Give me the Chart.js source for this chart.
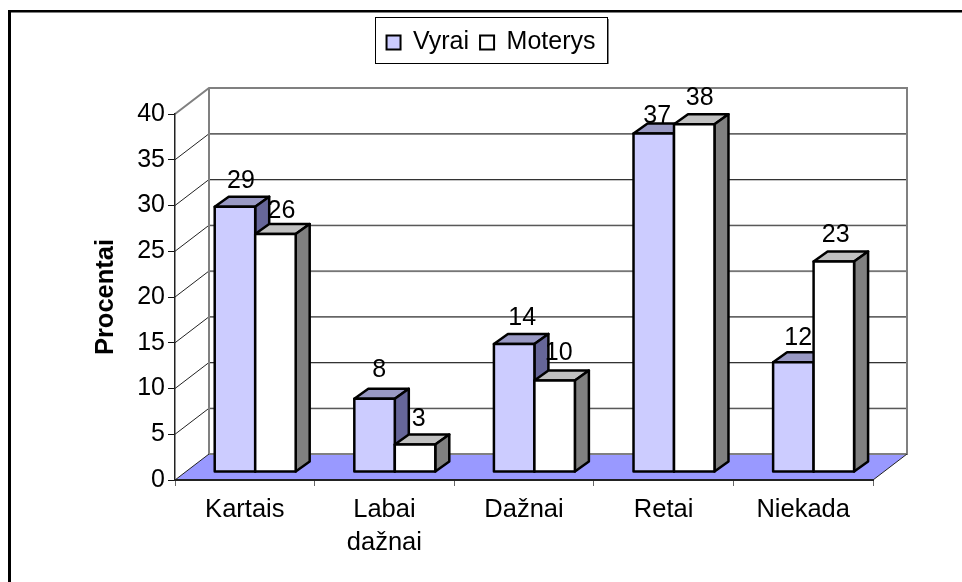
<!DOCTYPE html>
<html>
<head>
<meta charset="utf-8">
<style>html,body{margin:0;padding:0;background:#fff}canvas{display:block}</style>
<script src="https://cdn.jsdelivr.net/npm/chart.js@4"></script>
</head>
<body>
<canvas id="c" width="962" height="582"></canvas>
<script>
const categories = ['Kartais', ['Labai', 'dažnai'], 'Dažnai', 'Retai', 'Niekada'];
const vyrai = [29, 8, 14, 37, 12];
const moterys = [26, 3, 10, 38, 23];
const yTicks = [0, 5, 10, 15, 20, 25, 30, 35, 40];

const FONT = '"Liberation Sans", Arial, sans-serif';
const FS = 25;
const WALL = {dx: 34, dy: -26};      // depth of the back wall
const BAR_SHIFT = {dx: 10.4, dy: -8}; // bars stand inside the floor
const BAR_DEPTH = {dx: 14, dy: -10};
const BAR_LINE = 2.5;
// hand-placed data label nudges in the source chart (from bar front top centre)
const labelNudge = [
  [[6, -25.6], [4.7, -28.8], [8.1, -26], [3.5, -17.5], [4.9, -24]],
  [[6, -23], [3.7, -25.6], [4.1, -27.5], [5.5, -26.3], [1.9, -26.6]]
];
const faces = [
  {top: '#9999C4', side: '#666699'},
  {top: '#C0C0C0', side: '#808080'}
];

function poly(ctx, pts, fill, stroke, lw) {
  ctx.beginPath();
  pts.forEach((p, i) => i ? ctx.lineTo(p[0], p[1]) : ctx.moveTo(p[0], p[1]));
  ctx.closePath();
  if (fill) { ctx.fillStyle = fill; ctx.fill(); }
  if (stroke) { ctx.strokeStyle = stroke; ctx.lineWidth = lw; ctx.lineJoin = 'round'; ctx.stroke(); }
}
function line(ctx, pts, color, lw) {
  ctx.beginPath();
  pts.forEach((p, i) => i ? ctx.lineTo(p[0], p[1]) : ctx.moveTo(p[0], p[1]));
  ctx.strokeStyle = color; ctx.lineWidth = lw; ctx.stroke();
}
function drawDepth(ctx, meta, f) {
  meta.data.forEach(el => {
    const L = el.x - el.width / 2, R = el.x + el.width / 2, T = el.y, B = el.base;
    const {dx, dy} = BAR_DEPTH;
    poly(ctx, [[L, T], [L + dx, T + dy], [R + dx, T + dy], [R, T]], f.top, '#000', BAR_LINE);
    poly(ctx, [[R, T], [R + dx, T + dy], [R + dx, B + dy], [R, B]], f.side, '#000', BAR_LINE);
  });
}
function strokeFronts(ctx, meta) {
  meta.data.forEach(el => {
    ctx.strokeStyle = '#000'; ctx.lineWidth = BAR_LINE;
    ctx.strokeRect(el.x - el.width / 2, el.y, el.width, el.base - el.y);
  });
}

const chart3d = {
  id: 'chart3d',
  afterLayout(chart) {
    const l = chart.legend;
    l.left = 375; l.right = 607; l.top = 19; l.bottom = 65; l.width = 232; l.height = 46;
  },
  beforeDraw(chart) {
    const ctx = chart.ctx, a = chart.chartArea, y = chart.scales.y;
    const {dx, dy} = WALL;
    ctx.save();
    // outer frame: left and top only
    ctx.fillStyle = '#000';
    ctx.fillRect(8, 10, 3, 572);
    ctx.fillRect(8, 10, 954, 2.5);
    // legend frame
    ctx.strokeStyle = '#000'; ctx.lineWidth = 1;
    ctx.strokeRect(375.5, 17.5, 232, 46);
    ctx.fillStyle = '#808080';
    ctx.fillRect(608, 19, 1, 45);
    // floor
    poly(ctx, [[a.left, a.bottom], [a.left + dx, a.bottom + dy], [a.right + dx, a.bottom + dy], [a.right, a.bottom]], '#9999FF');
    // wall grid
    yTicks.forEach(v => {
      if (v === 0 || v === 40) return;
      const p = y.getPixelForValue(v);
      line(ctx, [[a.left, p], [a.left + dx, p + dy]], '#222', 1);
      line(ctx, [[a.left + dx, p + dy + 0.7], [a.right + dx, p + dy + 0.7]], '#aaa', 1);
      line(ctx, [[a.left + dx, p + dy], [a.right + dx, p + dy]], '#333', 1);
    });
    // wall edges
    const t = y.getPixelForValue(40), b = y.getPixelForValue(0);
    line(ctx, [[a.left, t], [a.left + dx, t + dy], [a.right + dx, t + dy], [a.right + dx, b + dy], [a.left + dx, b + dy], [a.left + dx, t + dy]], '#808080', 2);
    line(ctx, [[a.left, b], [a.left + dx, b + dy]], '#222', 1);
    line(ctx, [[a.right, b], [a.right + dx, b + dy]], '#222', 1);
    ctx.restore();
  },
  // Chart.js paints the last dataset first; in this 3D look Vyrai must come first,
  // because the Moterys bar stands in front of Vyrai's side face.
  beforeDatasetDraw(chart, args) {
    if (args.index === 0) return false;
    const ctx = chart.ctx;
    ctx.save();
    ctx.translate(BAR_SHIFT.dx, BAR_SHIFT.dy);
    const first = chart.getDatasetMeta(0);
    drawDepth(ctx, first, faces[0]);
    first.controller.draw();
    strokeFronts(ctx, first);
    drawDepth(ctx, args.meta, faces[1]);
  },
  afterDatasetDraw(chart, args) {
    if (args.index === 0) return;
    strokeFronts(chart.ctx, args.meta);
    chart.ctx.restore();
  },
  afterDatasetsDraw(chart) {
    const ctx = chart.ctx;
    ctx.save();
    ctx.font = FS + 'px ' + FONT;
    ctx.fillStyle = '#000';
    ctx.textAlign = 'center';
    ctx.textBaseline = 'middle';
    chart.data.datasets.forEach((ds, d) => {
      chart.getDatasetMeta(d).data.forEach((el, i) => {
        const n = labelNudge[d][i];
        ctx.fillText(String(ds.data[i]), el.x + BAR_SHIFT.dx + n[0], el.y + BAR_SHIFT.dy + n[1]);
      });
    });
    ctx.restore();
  }
};

new Chart(document.getElementById('c'), {
  type: 'bar',
  plugins: [chart3d],
  data: {
    labels: categories,
    datasets: [
      {label: 'Vyrai', data: vyrai, backgroundColor: '#CCCCFF', borderWidth: 0, clip: false,
       categoryPercentage: 0.58, barPercentage: 1},
      {label: 'Moterys', data: moterys, backgroundColor: '#FFFFFF', borderWidth: 0, clip: false,
       categoryPercentage: 0.58, barPercentage: 1}
    ]
  },
  options: {
    responsive: false,
    animation: false,
    devicePixelRatio: 1,
    layout: {padding: {left: 91, right: 89, top: 68, bottom: 0}},
    plugins: {
      tooltip: {enabled: false},
      title: {display: false},
      legend: {
        display: true,
        position: 'top',
        labels: {
          color: '#000',
          boxWidth: 14,
          boxHeight: 14,
          padding: 11,
          font: {family: FONT, size: FS},
          generateLabels(chart) {
            return Chart.defaults.plugins.legend.labels.generateLabels(chart).map(it => {
              it.lineWidth = 2; it.strokeStyle = '#000'; return it;
            });
          }
        }
      }
    },
    scales: {
      x: {
        offset: true,
        afterFit(s) { s.height = 102; },
        grid: {drawOnChartArea: false, tickLength: 6, tickColor: '#666', offset: true},
        border: {color: '#222', width: 2},
        ticks: {color: '#000', padding: 7, maxRotation: 0, autoSkip: false, font: {family: FONT, size: 25.5, lineHeight: 1.3}}
      },
      y: {
        min: 0, max: 40,
        afterFit(s) { s.width = 84; },
        afterBuildTicks(s) { s.ticks = yTicks.map(v => ({value: v})); },
        title: {display: true, text: 'Procentai', color: '#000', padding: 0, font: {family: FONT, size: 25.5, weight: 'bold'}},
        grid: {drawOnChartArea: false, tickLength: 7, tickColor: '#111'},
        border: {color: '#222', width: 1.5},
        ticks: {color: '#000', padding: 3, font: {family: FONT, size: FS}}
      }
    }
  }
});
</script>
</body>
</html>
